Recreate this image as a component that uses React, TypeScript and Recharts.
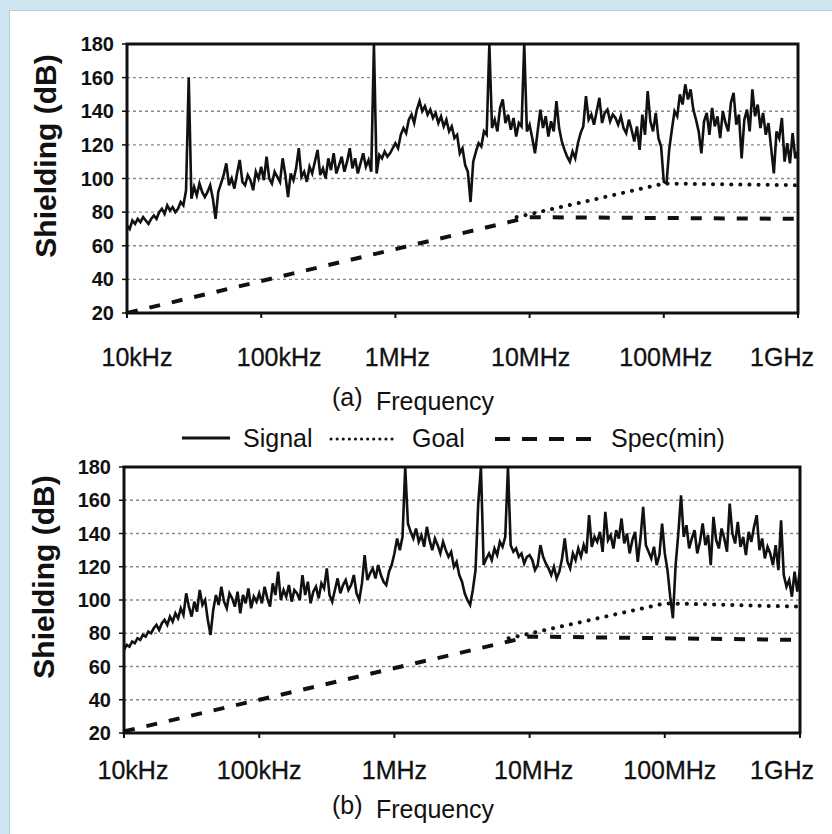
import { CartesianGrid, Line, LineChart, ReferenceArea, XAxis, YAxis } from "recharts";

const FREQ_TICKS = [1e4, 1e5, 1e6, 1e7, 1e8, 1e9];
const FREQ_LABELS = ["10kHz", "100kHz", "1MHz", "10MHz", "100MHz", "1GHz"];
const DB_TICKS = [20, 40, 60, 80, 100, 120, 140, 160, 180];

// sweep grid: 50 log-spaced points per decade, 10kHz .. 1GHz (251 points)
const POINTS_PER_DECADE = 50;

// (a) measured shielding, dB
const SIGNAL_A = [
  72, 70, 75, 73, 76, 74, 77, 75, 73, 76,
  78, 76, 80, 82, 79, 84, 81, 83, 80, 82,
  86, 84, 93, 160, 88, 95, 90, 97, 92, 89,
  92, 96, 88, 76, 92, 97, 102, 109, 96, 100,
  94, 103, 111, 98, 96, 102, 99, 93, 104, 100,
  107, 99, 113, 100, 97, 104, 101, 98, 112, 102,
  89, 103, 99, 106, 118, 101, 104, 98, 107, 103,
  110, 117, 102, 106, 100, 112, 105, 115, 103, 108,
  113, 104, 110, 118, 106, 112, 103, 109, 115, 107,
  111, 104, 180, 103, 114, 112, 116, 113, 115, 118,
  121, 118, 126, 130, 127, 135, 138, 133, 141, 146,
  140, 143, 138, 141, 136, 139, 133, 137, 131, 135,
  128, 131, 124, 126, 115, 118, 108, 104, 86, 110,
  116, 121, 119, 128, 126, 180, 130, 135, 128, 142,
  147, 133, 138, 129, 136, 125, 133, 131, 180, 128,
  132, 124, 115, 128, 141, 130, 137, 125, 134, 128,
  146, 130, 122, 117, 113, 110, 116, 112, 121, 127,
  131, 149, 135, 138, 132, 140, 148, 133, 139, 141,
  134, 138, 136, 132, 137, 130, 127, 135, 129, 122,
  131, 117, 138, 126, 152, 134, 128, 139, 124, 119,
  98, 97, 117, 129, 140, 137, 150, 144, 156, 147,
  153, 141, 135, 128, 115, 134, 139, 126, 142, 131,
  137, 124, 140, 133, 128, 145, 151, 132, 138, 112,
  135, 141, 128, 153, 137, 144, 130, 139, 126, 133,
  118, 103, 128, 124, 136, 110, 121, 109, 127, 112,
  116,
];

// (b) measured shielding, dB
const SIGNAL_B = [
  70, 73, 72, 75, 74, 77, 76, 79, 78, 81,
  80, 83, 85, 82, 86, 88, 85, 90, 87, 92,
  89, 95, 91, 104, 96, 90, 99, 93, 106, 97,
  100, 88, 79, 94, 103, 97, 108, 99, 95, 104,
  101, 96, 105, 92, 103, 98, 107, 95, 102, 99,
  104, 98, 108, 101, 96, 110, 103, 117, 100, 106,
  102, 109, 99, 106, 104, 100, 115, 103, 111, 98,
  105, 108, 101, 110, 107, 119, 103, 99, 106, 113,
  104, 109, 112, 106, 109, 115, 104, 100, 110, 127,
  112, 116, 119, 113, 121, 115, 111, 109, 117, 121,
  128, 137, 130, 138, 180, 146, 141, 137, 143, 135,
  139, 132, 144, 136, 130, 137, 133, 128, 135, 130,
  126, 129, 120, 123, 115, 111, 104, 100, 97, 106,
  118, 158, 180, 121, 125, 128, 124, 131, 127, 135,
  132, 138, 180, 133, 129, 131, 126, 128, 122, 126,
  127, 124, 118, 121, 133, 126, 122, 119, 115, 120,
  113, 117, 125, 137, 123, 119, 128, 124, 131, 126,
  133, 128, 151, 132, 138, 135, 141, 129, 153, 136,
  139, 131, 142, 137, 149, 134, 140, 128, 136, 141,
  123, 137, 156, 133, 129, 125, 132, 121, 127, 146,
  128, 118, 102, 89, 121, 140, 163, 138, 145, 131,
  137, 142, 128, 135, 146, 133, 139, 121, 150, 136,
  131, 143, 137, 129, 158, 140, 134, 147, 132, 138,
  127, 141, 135, 144, 151, 130, 137, 125, 132, 128,
  121, 133, 118, 148, 115, 108, 112, 102, 117, 105,
  119,
];

const GOAL_A_FREQ = [8e6, 1e8, 1e9];
const GOAL_A_DB = [77, 97, 96];
const SPEC_A_FREQ = [1e4, 1e7, 1e9];
const SPEC_A_DB = [20, 77, 76];

const GOAL_B_FREQ = [7e6, 1e8, 1e9];
const GOAL_B_DB = [77, 98, 96];
const SPEC_B_FREQ = [1e4, 1e7, 1e9];
const SPEC_B_DB = [21, 78, 76];

const FONT = "'Liberation Sans', Arial, sans-serif";
const INK = "#111";

const sweep = (values: number[]) =>
  values.map((db, i) => ({ f: 10 ** (4 + i / POINTS_PER_DECADE), db }));
const pairs = (freqs: number[], dbs: number[]) => freqs.map((f, i) => ({ f, db: dbs[i] }));

function FreqTick({ x, y, payload, nudge }: any) {
  const idx = FREQ_TICKS.indexOf(payload.value);
  return (
    <text
      x={x + (nudge[idx] ?? 0)}
      y={y}
      dy="0.71em"
      textAnchor="middle"
      fontFamily={FONT}
      fontSize={25}
      fill={INK}
      stroke={INK}
      strokeWidth={0.3}
    >
      {FREQ_LABELS[idx]}
    </text>
  );
}

function ShieldingChart({
  signal,
  goal,
  spec,
  margin,
  height,
  tickGap,
  nudge,
}: {
  signal: { f: number; db: number }[];
  goal: { f: number; db: number }[];
  spec: { f: number; db: number }[];
  margin: { top: number; right: number; bottom: number; left: number };
  height: number;
  tickGap: number;
  nudge: number[];
}) {
  return (
    <LineChart width={832} height={height} margin={margin}>
      <CartesianGrid
        vertical={false}
        stroke="#8a8a8a"
        strokeWidth={1.4}
        strokeDasharray="3 3"
      />
      <XAxis
        dataKey="f"
        type="number"
        scale="log"
        domain={[1e4, 1e9]}
        ticks={FREQ_TICKS}
        allowDataOverflow
        height={60}
        tickSize={5}
        tickMargin={tickGap}
        axisLine={false}
        tickLine={{ stroke: INK, strokeWidth: 2 }}
        tick={<FreqTick nudge={nudge} />}
      />
      <YAxis
        dataKey="db"
        type="number"
        domain={[20, 180]}
        ticks={DB_TICKS}
        allowDataOverflow
        width={60}
        tickSize={5}
        tickMargin={8}
        axisLine={false}
        tickLine={{ stroke: INK, strokeWidth: 1.5 }}
        tick={{ fontFamily: FONT, fontSize: 20, fontWeight: 700, fill: INK }}
      />
      <Line
        data={spec}
        dataKey="db"
        type="linear"
        stroke={INK}
        strokeWidth={4}
        strokeDasharray="11 12"
        dot={false}
        isAnimationActive={false}
      />
      <Line
        data={goal}
        dataKey="db"
        type="linear"
        stroke={INK}
        strokeWidth={4}
        strokeDasharray="0.1 9"
        strokeLinecap="round"
        dot={false}
        isAnimationActive={false}
      />
      <Line
        data={signal}
        dataKey="db"
        type="linear"
        stroke={INK}
        strokeWidth={2.6}
        strokeLinejoin="miter"
        dot={false}
        isAnimationActive={false}
      />
      <ReferenceArea
        x1={1e4}
        x2={1e9}
        y1={20}
        y2={180}
        fill="none"
        fillOpacity={0}
        stroke={INK}
        strokeWidth={3}
      />
    </LineChart>
  );
}

const textStyle: React.CSSProperties = {
  position: "absolute",
  fontFamily: FONT,
  color: INK,
  whiteSpace: "nowrap",
  lineHeight: 1,
};

function YLabel({ cx, cy }: { cx: number; cy: number }) {
  return (
    <div
      style={{
        ...textStyle,
        left: cx,
        top: cy,
        fontSize: 30,
        fontWeight: 700,
        transform: "translate(-50%, -50%) rotate(-90deg)",
      }}
    >
      Shielding (dB)
    </div>
  );
}

function Caption({ tag, top }: { tag: string; top: number }) {
  return (
    <>
      <div style={{ ...textStyle, left: 332, top, fontSize: 25 }}>{tag}</div>
      <div style={{ ...textStyle, left: 376, top: top + 4, fontSize: 25 }}>Frequency</div>
    </>
  );
}

function Legend() {
  return (
    <div style={{ position: "absolute", left: 0, top: 424, width: 832, height: 30 }}>
      <svg width={832} height={30} style={{ position: "absolute", left: 0, top: 0 }}>
        <line x1={182} x2={230} y1={14} y2={14} stroke={INK} strokeWidth={3} />
        <line
          x1={331}
          x2={398}
          y1={15}
          y2={15}
          stroke={INK}
          strokeWidth={3}
          strokeDasharray="0.1 6"
          strokeLinecap="round"
        />
        <line
          x1={495}
          x2={592}
          y1={15}
          y2={15}
          stroke={INK}
          strokeWidth={4}
          strokeDasharray="15 12"
        />
      </svg>
      <div style={{ ...textStyle, left: 243, top: 2, fontSize: 25 }}>Signal</div>
      <div style={{ ...textStyle, left: 412, top: 2, fontSize: 25 }}>Goal</div>
      <div style={{ ...textStyle, left: 611, top: 2, fontSize: 25 }}>Spec(min)</div>
    </div>
  );
}

export default function App() {
  return (
    <div
      style={{
        position: "absolute",
        left: 0,
        top: 0,
        width: 832,
        height: 834,
        overflow: "hidden",
        background: "#cfe5ef",
      }}
    >
      <div
        style={{
          position: "absolute",
          left: 9,
          top: 10,
          right: 0,
          bottom: 0,
          background: "#fff",
          borderTop: "1px solid #b9cfd9",
          borderLeft: "1px solid #b9cfd9",
        }}
      />
      <div style={{ position: "absolute", left: 0, top: 0 }}>
        <ShieldingChart
          signal={sweep(SIGNAL_A)}
          goal={pairs(GOAL_A_FREQ, GOAL_A_DB)}
          spec={pairs(SPEC_A_FREQ, SPEC_A_DB)}
          margin={{ top: 44, right: 34, bottom: 7, left: 67 }}
          height={380}
          tickGap={30}
          nudge={[10, 18, 2, 1, 2, -10]}
        />
      </div>
      <div style={{ position: "absolute", left: 0, top: 420 }}>
        <ShieldingChart
          signal={sweep(SIGNAL_B)}
          goal={pairs(GOAL_B_FREQ, GOAL_B_DB)}
          spec={pairs(SPEC_B_FREQ, SPEC_B_DB)}
          margin={{ top: 47, right: 32, bottom: 27, left: 64 }}
          height={400}
          tickGap={23}
          nudge={[9, 0, 0, 4, 5, -10]}
        />
      </div>
      <YLabel cx={46} cy={156} />
      <YLabel cx={44} cy={577} />
      <Caption tag="(a)" top={385} />
      <Caption tag="(b)" top={793} />
      <Legend />
    </div>
  );
}
